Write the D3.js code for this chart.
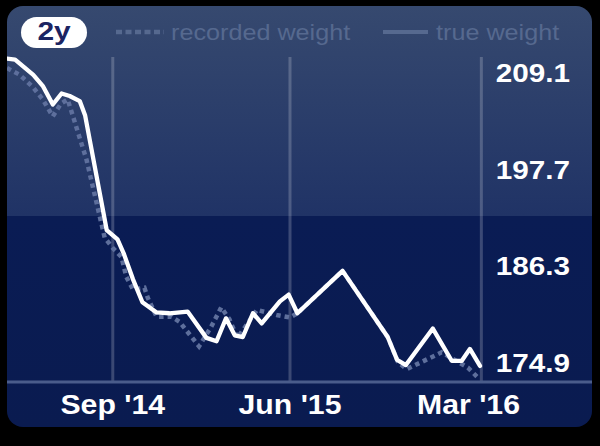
<!DOCTYPE html>
<html><head><meta charset="utf-8">
<script src="https://cdn.jsdelivr.net/npm/d3@7"></script>
<style>
html,body{margin:0;padding:0;background:#000;}
svg{display:block;}
text{font-family:"Liberation Sans",Arial,Helvetica,sans-serif;}
</style></head>
<body>
<svg id="chart" width="600" height="446"></svg>
<script>
// ---- data ----
const trueDates = ["2014-03-28","2014-04-09","2014-05-06","2014-05-20","2014-06-04","2014-06-17","2014-06-29","2014-07-14","2014-07-22","2014-08-23","2014-09-08","2014-09-17","2014-10-01","2014-10-15","2014-11-05","2014-11-24","2014-12-21","2015-01-18","2015-02-02","2015-02-16","2015-03-01","2015-03-13","2015-03-28","2015-04-10","2015-05-07","2015-05-20","2015-06-02","2015-08-08","2015-10-14","2015-10-28","2015-11-10","2015-12-20","2016-01-17","2016-02-01","2016-02-13","2016-02-28"];
const trueValues = [210.6,210.5,208.7,207.4,205.2,206.5,206.2,205.6,203.9,190.4,189.3,187.7,184.6,181.9,180.7,180.6,180.8,177.7,177.3,180.0,178.0,177.8,180.6,179.4,182.0,182.8,180.6,185.6,177.8,175.1,174.5,178.8,175.0,175.0,176.4,174.4];
const recordedDates = ["2014-03-28","2014-04-16","2014-05-06","2014-05-20","2014-06-04","2014-06-16","2014-06-26","2014-07-04","2014-07-11","2014-07-24","2014-08-20","2014-09-01","2014-09-14","2014-09-21","2014-10-01","2014-10-18","2014-10-23","2014-11-05","2014-11-27","2014-12-09","2014-12-24","2015-01-07","2015-01-25","2015-02-09","2015-02-21","2015-03-05","2015-04-03","2015-05-02","2015-05-22","2015-06-02","2015-08-08","2015-10-14","2015-10-29","2015-11-11","2016-01-02","2016-02-10","2016-02-25"];
const recordedValues = [209.5,208.7,207.2,205.8,203.8,205.3,205.8,203.8,202.0,198.7,189.5,188.3,187.2,184.9,183.4,183.6,182.4,180.2,180.2,179.6,178.1,176.7,179.0,181.3,179.9,177.7,181.0,180.4,180.1,180.6,185.6,177.8,174.9,174.0,176.0,174.2,173.0];
const yTicks = [174.9, 186.3, 197.7, 209.1];
const xTickDates = ["2014-09-01","2015-05-22","2016-03-01"];
const xTickLabels = ["Sep '14","Jun '15","Mar '16"];
const rangeLabel = "2y";
const legendLabels = ["recorded weight","true weight"];

// ---- layout ----
const W = 600, H = 446;
const P = {x0:7, y0:6, x1:592, y1:427, r:16};
const plotTop = 57, baseY = 382, bandY = 216;
const SX = 1.12; // horizontal text stretch

const parse = d3.timeParse("%Y-%m-%d");
const trueData = trueDates.map((d,i)=>({date:parse(d), v:trueValues[i]}));
const recData = recordedDates.map((d,i)=>({date:parse(d), v:recordedValues[i]}));

const x = d3.scaleTime().domain([parse("2014-03-28"), parse("2016-02-28")]).range([7, 480]);
const y = d3.scaleLinear().domain([172.5, 210.8]).range([baseY, plotTop]);

const svg = d3.select("#chart");
const defs = svg.append("defs");
const g1 = defs.append("linearGradient").attr("id","topGrad").attr("x1",0).attr("y1",0).attr("x2",0).attr("y2",1);
g1.append("stop").attr("offset","0%").attr("stop-color","#36496f");
g1.append("stop").attr("offset","100%").attr("stop-color","#203366");
const g2 = defs.append("linearGradient").attr("id","botGrad").attr("x1",0).attr("y1",0).attr("x2",0).attr("y2",1);
g2.append("stop").attr("offset","0%").attr("stop-color","#0a1c54");
g2.append("stop").attr("offset","100%").attr("stop-color","#0a1b50");
defs.append("clipPath").attr("id","panelClip").append("rect")
  .attr("x",P.x0).attr("y",P.y0).attr("width",P.x1-P.x0).attr("height",P.y1-P.y0).attr("rx",P.r);

svg.append("rect").attr("width",W).attr("height",H).attr("fill","#000");
const panel = svg.append("g").attr("clip-path","url(#panelClip)");
panel.append("rect").attr("x",P.x0).attr("y",P.y0).attr("width",P.x1-P.x0).attr("height",bandY-P.y0).attr("fill","url(#topGrad)");
panel.append("rect").attr("x",P.x0).attr("y",bandY).attr("width",P.x1-P.x0).attr("height",P.y1-bandY).attr("fill","url(#botGrad)");

// vertical gridlines
panel.selectAll("line.grid").data(xTickDates).join("line")
  .attr("class","grid")
  .attr("x1",d=>x(parse(d))).attr("x2",d=>x(parse(d)))
  .attr("y1",plotTop).attr("y2",baseY)
  .attr("stroke","#ffffff").attr("stroke-opacity",0.2).attr("stroke-width",3);

// baseline
panel.append("line").attr("x1",P.x0).attr("x2",P.x1).attr("y1",baseY).attr("y2",baseY)
  .attr("stroke","#4a5c8b").attr("stroke-width",3);

// lines
const line = d3.line().x(d=>x(d.date)).y(d=>y(d.v));
panel.append("path").datum(recData).attr("d",line)
  .attr("fill","none").attr("stroke","#5e6f9c").attr("stroke-width",4.5)
  .attr("stroke-dasharray","4.5,4");
panel.append("path").datum(trueData).attr("d",line)
  .attr("fill","none").attr("stroke","#ffffff").attr("stroke-width",4.3)
  .attr("stroke-linejoin","round").attr("stroke-linecap","round");

// y labels
svg.selectAll("text.ylab").data(yTicks).join("text")
  .attr("class","ylab")
  .attr("transform",d=>`translate(570,${y(d)+10.5}) scale(${SX},1)`)
  .attr("text-anchor","end").attr("font-size",26.5).attr("font-weight","bold")
  .attr("fill","#ffffff").text(d=>d.toFixed(1));

// x labels
svg.selectAll("text.xlab").data(xTickDates).join("text")
  .attr("class","xlab")
  .attr("text-anchor","middle").attr("font-size",27).attr("font-weight","bold")
  .attr("fill","#ffffff").text((d,i)=>xTickLabels[i])
  .each(function(d){
    const w = this.getComputedTextLength()*SX;
    const cx = Math.min(x(parse(d)), 520 - w/2);
    d3.select(this).attr("transform",`translate(${cx},414) scale(${SX},1)`);
  });

// range pill
svg.append("rect").attr("x",21).attr("y",17).attr("width",66).attr("height",31).attr("rx",15.5)
  .attr("fill","#ffffff");
svg.append("text").attr("transform",`translate(54,40) scale(1.15,1)`)
  .attr("text-anchor","middle").attr("font-size",26).attr("font-weight","bold")
  .attr("fill","#1b2462").text(rangeLabel);

// legend
const legColor = "#56698f";
svg.append("line").attr("x1",116).attr("x2",164).attr("y1",32).attr("y2",32)
  .attr("stroke",legColor).attr("stroke-width",4.5).attr("stroke-dasharray","6,3.5");
svg.append("text").attr("transform",`translate(171,39.5) scale(${SX},1)`)
  .attr("font-size",22.5).attr("fill",legColor).text(legendLabels[0]);
svg.append("line").attr("x1",383).attr("x2",428).attr("y1",32).attr("y2",32)
  .attr("stroke",legColor).attr("stroke-width",4);
svg.append("text").attr("transform",`translate(436,39.5) scale(${SX},1)`)
  .attr("font-size",22.5).attr("fill",legColor).text(legendLabels[1]);
</script>
</body></html>
